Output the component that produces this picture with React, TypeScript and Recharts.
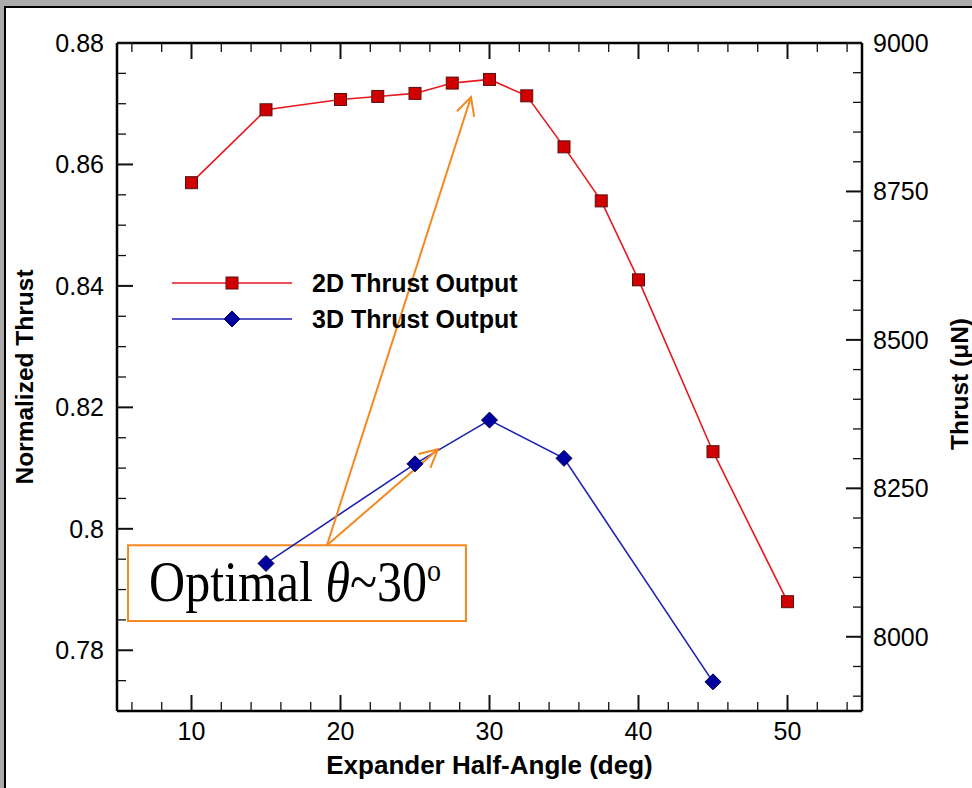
import React from 'react';
import {
  ComposedChart,
  Line,
  XAxis,
  YAxis,
  Legend,
  ReferenceLine,
  ReferenceArea,
} from 'recharts';

// ---------------- data ----------------
const ANGLES_2D = [10, 15, 20, 22.5, 25, 27.5, 30, 32.5, 35, 37.5, 40, 45, 50];
const THRUST_2D = [0.857, 0.869, 0.8707, 0.8712, 0.8717, 0.8734, 0.874, 0.8713, 0.8629, 0.854, 0.841, 0.8127, 0.788];
const ANGLES_3D = [15, 25, 30, 35, 45];
const THRUST_3D = [0.7943, 0.8107, 0.8179, 0.8116, 0.7748];
const SERIES_NAMES = ['2D Thrust Output', '3D Thrust Output'];

const X_DOMAIN = [5, 55];
const X_TICKS = [6, 8, 10, 12, 14, 16, 18, 20, 22, 24, 26, 28, 30, 32, 34, 36, 38, 40, 42, 44, 46, 48, 50, 52, 54];
const X_MAJOR = [10, 20, 30, 40, 50];

const LEFT_DOMAIN = [0.77, 0.88];
const LEFT_TICKS = [0.775, 0.78, 0.785, 0.79, 0.795, 0.8, 0.805, 0.81, 0.815, 0.82, 0.825, 0.83, 0.835, 0.84, 0.845, 0.85, 0.855, 0.86, 0.865, 0.87, 0.875, 0.88];
const LEFT_MAJOR = [0.78, 0.8, 0.82, 0.84, 0.86, 0.88];

const RIGHT_DOMAIN = [7875, 9000];
const RIGHT_TICKS = [7900, 7950, 8000, 8050, 8100, 8150, 8200, 8250, 8300, 8350, 8400, 8450, 8500, 8550, 8600, 8650, 8700, 8750, 8800, 8850, 8900, 8950, 9000];
const RIGHT_MAJOR = [8000, 8250, 8500, 8750, 9000];

const X_TITLE = 'Expander Half-Angle (deg)';
const LEFT_TITLE = 'Normalized Thrust';
const RIGHT_TITLE = 'Thrust (μN)';

// annotation (in data coordinates)
const NOTE_BOX_X = [5.74, 28.42];
const NOTE_BOX_Y = [0.7848, 0.7973];
const ARROW_FROM = { x: 19.09, y: 0.7973 };
const ARROW_TIPS = [
  { x: 28.76, y: 0.8711 },
  { x: 26.54, y: 0.8131 },
];
const NOTE_PARTS = ['Optimal ', 'θ', '~30', 'o'];

// ---------------- styles ----------------
const W = 972;
const H = 788;
const SANS = '"Liberation Sans", Arial, Helvetica, sans-serif';
const SERIF = '"Liberation Serif", "Times New Roman", serif';
const RED_LINE = '#e6191e';
const RED_FILL = '#d10000';
const RED_EDGE = '#5a1010';
const BLUE_LINE = '#1e22b4';
const BLUE_FILL = '#0000a0';
const BLUE_EDGE = '#00004a';
const ORANGE = '#f5891f';
const TICK_FONT = 25;

const rows2d = ANGLES_2D.map((x, i) => ({ x, y: THRUST_2D[i] }));
const rows3d = ANGLES_3D.map((x, i) => ({ x, y: THRUST_3D[i] }));

const axisLine = { stroke: '#000', strokeWidth: 2.5 };

function makeTick(orient: string, major: number[], showLabel: boolean) {
  return (props: any) => {
    const { x, y, payload } = props;
    const v = payload.value;
    const isMajor = major.includes(v);
    const len = isMajor ? 16 : 9;
    const sw = isMajor ? 2 : 1.3;
    let x2 = x;
    let y2 = y;
    let label: any = null;
    if (orient === 'bottom') {
      y2 = y - len;
      if (showLabel && isMajor)
        label = (
          <text x={x} y={y + 11} dy="0.71em" textAnchor="middle" fontSize={TICK_FONT} fontFamily={SANS} fill="#000">
            {String(v)}
          </text>
        );
    } else if (orient === 'top') {
      y2 = y + len;
    } else if (orient === 'left') {
      x2 = x + len;
      if (showLabel && isMajor)
        label = (
          <text x={x - 13} y={y} dy="0.36em" textAnchor="end" fontSize={TICK_FONT} fontFamily={SANS} fill="#000">
            {String(v)}
          </text>
        );
    } else {
      x2 = x - len;
      if (showLabel && isMajor)
        label = (
          <text x={x + 11} y={y} dy="0.36em" textAnchor="start" fontSize={TICK_FONT} fontFamily={SANS} fill="#000">
            {String(v)}
          </text>
        );
    }
    return (
      <g>
        <line x1={x} y1={y} x2={x2} y2={y2} stroke="#111" strokeWidth={sw} />
        {label}
      </g>
    );
  };
}

const squareDot = (p: any) => {
  if (p.cx == null || p.cy == null) return <g key={p.index} />;
  return (
    <rect key={p.index} x={p.cx - 6} y={p.cy - 6} width={12} height={12} fill={RED_FILL} stroke={RED_EDGE} strokeWidth={1} />
  );
};

const diamondDot = (p: any) => {
  if (p.cx == null || p.cy == null) return <g key={p.index} />;
  const { cx, cy } = p;
  const r = 8;
  return (
    <polygon
      key={p.index}
      points={`${cx},${cy - r} ${cx + r},${cy} ${cx},${cy + r} ${cx - r},${cy}`}
      fill={BLUE_FILL}
      stroke={BLUE_EDGE}
      strokeWidth={1}
    />
  );
};

const arrowShape = (p: any) => {
  const { x1, y1, x2, y2 } = p;
  const dx = x1 - x2;
  const dy = y1 - y2;
  const L = Math.hypot(dx, dy) || 1;
  const ux = dx / L;
  const uy = dy / L;
  const a = 0.47;
  const len = 20;
  const arm = (ang: number) => [
    x2 + len * (ux * Math.cos(ang) - uy * Math.sin(ang)),
    y2 + len * (ux * Math.sin(ang) + uy * Math.cos(ang)),
  ];
  const [ax, ay] = arm(a);
  const [bx, by] = arm(-a);
  return (
    <g>
      <line x1={x1} y1={y1} x2={x2} y2={y2} stroke={ORANGE} strokeWidth={2} />
      <polyline points={`${ax},${ay} ${x2},${y2} ${bx},${by}`} fill="none" stroke={ORANGE} strokeWidth={2} />
    </g>
  );
};

const noteLabel = (props: any) => {
  const vb = props.viewBox || {};
  const tx = (vb.x || 0) + 21;
  const ty = (vb.y || 0) + 56;
  return (
    <g transform={`translate(${tx},${ty}) scale(1,1.15)`}>
      <text x={0} y={0} fontFamily={SERIF} fontSize={50} fill="#000">
        <tspan>{NOTE_PARTS[0]}</tspan>
        <tspan fontStyle="italic">{NOTE_PARTS[1]}</tspan>
        <tspan>{NOTE_PARTS[2]}</tspan>
        <tspan dy={-18} fontSize={28}>
          {NOTE_PARTS[3]}
        </tspan>
      </text>
    </g>
  );
};

const leftTitle = (props: any) => {
  const vb = props.viewBox || {};
  const cx = (vb.x || 0) + 24;
  const cy = (vb.y || 0) + (vb.height || 0) / 2;
  return (
    <text
      x={cx}
      y={cy}
      dy="0.36em"
      transform={`rotate(-90, ${cx}, ${cy})`}
      textAnchor="middle"
      fontSize={24.5}
      fontWeight="bold"
      fontFamily={SANS}
      fill="#000"
    >
      {LEFT_TITLE}
    </text>
  );
};

const rightTitle = (props: any) => {
  const vb = props.viewBox || {};
  const cx = (vb.x || 0) + 97;
  const cy = (vb.y || 0) + (vb.height || 0) / 2 + 7;
  return (
    <text
      x={cx}
      y={cy}
      dy="0.36em"
      transform={`rotate(-90, ${cx}, ${cy})`}
      textAnchor="middle"
      fontSize={24.5}
      fontWeight="bold"
      fontFamily={SANS}
      fill="#000"
    >
      {RIGHT_TITLE}
    </text>
  );
};

const bottomTitle = (props: any) => {
  const vb = props.viewBox || {};
  const cx = (vb.x || 0) + (vb.width || 0) / 2;
  const cy = (vb.y || 0) + 63;
  return (
    <text x={cx} y={cy} textAnchor="middle" fontSize={26} fontWeight="bold" fontFamily={SANS} fill="#000">
      {X_TITLE}
    </text>
  );
};

const LEGEND_STYLES = [
  { stroke: RED_LINE, marker: 'square' },
  { stroke: BLUE_LINE, marker: 'diamond' },
];

const renderLegend = (props: any) => {
  const payload = (props && props.payload) || [];
  const items = payload.length ? payload.map((p: any) => p.value) : SERIES_NAMES;
  return (
    <svg width={400} height={80} style={{ display: 'block' }}>
      {items.map((name: string, i: number) => {
        const st = LEGEND_STYLES[SERIES_NAMES.indexOf(name) >= 0 ? SERIES_NAMES.indexOf(name) : i];
        const y = 23 + i * 36;
        const mx = 72;
        return (
          <g key={name}>
            <line x1={12} y1={y} x2={132} y2={y} stroke={st.stroke} strokeWidth={1.6} />
            {st.marker === 'square' ? (
              <rect x={mx - 6} y={y - 6} width={12} height={12} fill={RED_FILL} stroke={RED_EDGE} strokeWidth={1} />
            ) : (
              <polygon
                points={`${mx},${y - 8} ${mx + 8},${y} ${mx},${y + 8} ${mx - 8},${y}`}
                fill={BLUE_FILL}
                stroke={BLUE_EDGE}
                strokeWidth={1}
              />
            )}
            <text x={152} y={y} dy="0.36em" fontSize={25} fontWeight="bold" fontFamily={SANS} fill="#000">
              {name}
            </text>
          </g>
        );
      })}
    </svg>
  );
};

export default function App() {
  return (
    <div style={{ position: 'absolute', left: 0, top: 0, width: W, height: H, background: '#ababab', overflow: 'hidden' }}>
      <div
        style={{
          position: 'absolute',
          left: 4,
          top: 6,
          right: 0,
          bottom: 0,
          background: '#fff',
          borderTop: '2.5px solid #000',
          borderLeft: '2.5px solid #000',
        }}
      />
      <div style={{ position: 'absolute', left: 0, top: 0, width: W, height: H, fontFamily: SANS }}>
        <ComposedChart width={W} height={H} margin={{ top: 33, right: 0, bottom: 0, left: 0 }}>
          <XAxis
            xAxisId="b"
            type="number"
            dataKey="x"
            domain={X_DOMAIN}
            ticks={X_TICKS}
            interval={0}
            allowDataOverflow
            tickLine={false}
            tickSize={0}
            tickMargin={0}
            tick={makeTick('bottom', X_MAJOR, true)}
            axisLine={axisLine}
            height={77}
            label={bottomTitle}
          />
          <XAxis
            xAxisId="t"
            orientation="top"
            type="number"
            dataKey="x"
            domain={X_DOMAIN}
            ticks={X_TICKS}
            interval={0}
            allowDataOverflow
            tickLine={false}
            tickSize={0}
            tickMargin={0}
            tick={makeTick('top', X_MAJOR, false)}
            axisLine={axisLine}
            height={10}
          />
          <YAxis
            yAxisId="l"
            type="number"
            domain={LEFT_DOMAIN}
            ticks={LEFT_TICKS}
            interval={0}
            allowDataOverflow
            tickLine={false}
            tickSize={0}
            tickMargin={0}
            tick={makeTick('left', LEFT_MAJOR, true)}
            axisLine={axisLine}
            width={117}
            label={leftTitle}
          />
          <YAxis
            yAxisId="r"
            orientation="right"
            type="number"
            domain={RIGHT_DOMAIN}
            ticks={RIGHT_TICKS}
            interval={0}
            allowDataOverflow
            tickLine={false}
            tickSize={0}
            tickMargin={0}
            tick={makeTick('right', RIGHT_MAJOR, true)}
            axisLine={axisLine}
            width={110}
            label={rightTitle}
          />
          <ReferenceArea
            xAxisId="b"
            yAxisId="l"
            x1={NOTE_BOX_X[0]}
            x2={NOTE_BOX_X[1]}
            y1={NOTE_BOX_Y[0]}
            y2={NOTE_BOX_Y[1]}
            fill="none"
            fillOpacity={0}
            stroke={ORANGE}
            strokeWidth={2}
            strokeOpacity={1}
            ifOverflow="visible"
            label={noteLabel}
          />
          <Line
            xAxisId="b"
            yAxisId="l"
            data={rows2d}
            dataKey="y"
            name={SERIES_NAMES[0]}
            stroke={RED_LINE}
            strokeWidth={1.6}
            dot={squareDot}
            activeDot={false}
            isAnimationActive={false}
          />
          <Line
            xAxisId="b"
            yAxisId="l"
            data={rows3d}
            dataKey="y"
            name={SERIES_NAMES[1]}
            stroke={BLUE_LINE}
            strokeWidth={1.6}
            dot={diamondDot}
            activeDot={false}
            isAnimationActive={false}
          />
          {ARROW_TIPS.map((tip, i) => (
            <ReferenceLine
              key={i}
              xAxisId="b"
              yAxisId="l"
              segment={[ARROW_FROM, tip]}
              shape={arrowShape}
              ifOverflow="visible"
            />
          ))}
          <Legend
            layout="horizontal"
            verticalAlign="middle"
            align="center"
            content={renderLegend}
            wrapperStyle={{ position: 'absolute', left: 160, top: 260, width: 400, height: 80 }}
          />
        </ComposedChart>
      </div>
    </div>
  );
}
